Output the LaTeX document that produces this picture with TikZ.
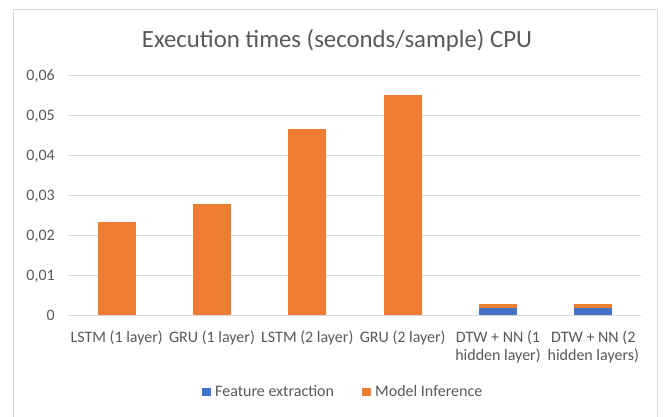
\documentclass[tikz,border=0pt]{standalone}
\usepackage{fontspec}
\setmainfont{Carlito}
\definecolor{ctext}{HTML}{595959}
\definecolor{cgrid}{HTML}{D9D9D9}
\definecolor{corange}{HTML}{ED7D31}
\definecolor{cblue}{HTML}{4472C4}
\newcommand{\twolines}[2]{\begin{tabular}[t]{@{}c@{}}#1\\#2\end{tabular}}
\begin{document}
\begin{tikzpicture}[x=1pt,y=-1pt,
  gridline/.style={draw=cgrid,line width=1pt},
  frameline/.style={draw=cgrid,line width=1pt},
  ticklabel/.style={anchor=base east,text=ctext,font=\fontsize{16}{19}\selectfont,inner sep=0pt},
  catlabel/.style={anchor=base,text=ctext,font=\fontsize{16}{18.7}\selectfont,inner sep=0pt},
  legendlabel/.style={anchor=base west,text=ctext,font=\fontsize{16}{19}\selectfont,inner sep=0pt},
  orangebar/.style={fill=corange},
  bluebar/.style={fill=cblue}]
\useasboundingbox (0,0) rectangle (663,416);
\fill[white] (0,0) rectangle (663,416);
% frame
\draw[frameline] (13.5,430) -- (13.5,9.5) -- (657.5,9.5) -- (657.5,430);
% title
\node[anchor=base,text=ctext,font=\fontsize{24.8}{28}\selectfont,inner sep=0pt] (title) at (337,47.7) {Execution times (seconds/sample) CPU};
% gridlines and tick labels
\foreach \i in {0,...,6}{
  \draw[gridline] (69,{315.3-40*\i}) -- (641,{315.3-40*\i});
}
\node[ticklabel] (t0) at (55,320.6) {0};
\foreach \i in {1,...,6}{
  \node[ticklabel] (t\i) at (55,{320.6-40*\i}) {0,0\i};
}
% bars
\fill[orangebar] (97.7,315.3) rectangle (135.7,{315.3-93.2});
\fill[orangebar] (193.0,315.3) rectangle (231.0,{315.3-111.2});
\fill[orangebar] (288.3,315.3) rectangle (326.3,{315.3-186.2});
\fill[orangebar] (383.7,315.3) rectangle (421.7,{315.3-220.2});
\fill[bluebar] (479.0,315.3) rectangle (517.0,{315.3-7.8});
\fill[orangebar] (479.0,{315.3-7.8}) rectangle (517.0,{315.3-11});
\fill[bluebar] (574.3,315.3) rectangle (612.3,{315.3-7.8});
\fill[orangebar] (574.3,{315.3-7.8}) rectangle (612.3,{315.3-11});
% category labels
\node[catlabel] (c1) at (116.7,342) {LSTM (1 layer)};
\node[catlabel] (c2) at (212.0,342) {GRU (1 layer)};
\node[catlabel] (c3) at (307.3,342) {LSTM (2 layer)};
\node[catlabel] (c4) at (402.7,342) {GRU (2 layer)};
\node[catlabel] (c5) at (498.0,342) {\twolines{DTW + NN (1}{hidden layer)}};
\node[catlabel] (c6) at (593.3,342) {\twolines{DTW + NN (2}{hidden layers)}};
% legend
\fill[bluebar] (201.7,387.5) rectangle (210.7,396.3);
\node[legendlabel] (l1) at (215,396.7) {Feature extraction};
\fill[orangebar] (361.7,387.5) rectangle (370.7,396.3);
\node[legendlabel] (l2) at (375,396.7) {Model Inference};
\end{tikzpicture}
\end{document}
